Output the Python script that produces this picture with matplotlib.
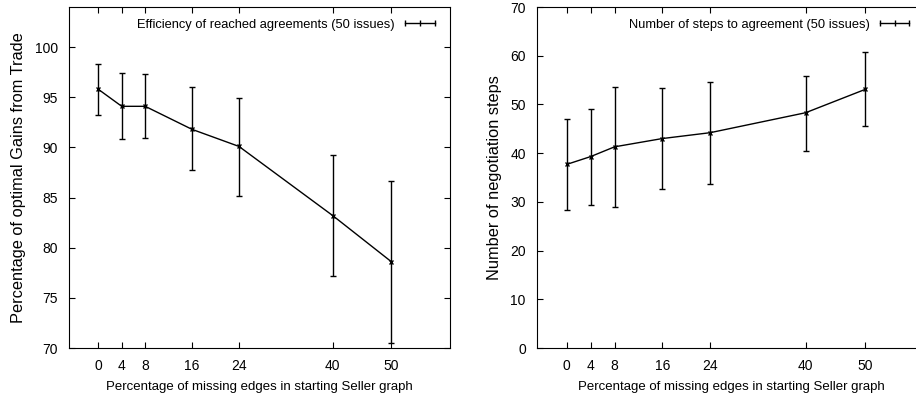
import matplotlib.pyplot as plt
from matplotlib.lines import Line2D

plt.rcParams['font.family'] = ['Liberation Sans Narrow', 'Liberation Sans', 'DejaVu Sans']
plt.rcParams['font.size'] = 10

# shared x positions (percentage of missing edges)
missing = [0, 4, 8, 16, 24, 40, 50]

# efficiency of reached agreements
eff = [95.8, 94.1, 94.1, 91.8, 90.1, 83.2, 78.6]
eff_low = [93.2, 90.8, 90.9, 87.7, 85.2, 77.2, 70.5]
eff_high = [98.3, 97.4, 97.3, 96.0, 94.9, 89.2, 86.7]

# number of steps to agreement
steps = [37.7, 39.3, 41.3, 43.0, 44.2, 48.3, 53.1]
steps_low = [28.3, 29.4, 29.0, 32.6, 33.7, 40.5, 45.6]
steps_high = [47.0, 49.1, 53.5, 53.3, 54.7, 55.9, 60.7]

xlabel = 'Percentage of missing edges in starting Seller graph'

fig = plt.figure(figsize=(9.16, 4.04), dpi=100)
ax1 = fig.add_axes([0.0753, 0.1386, 0.416, 0.844])
ax2 = fig.add_axes([0.5862, 0.1386, 0.4236, 0.844])


def draw(ax, y, lo, hi, label, ylim, yticks, ylab):
    err = [[v - l for v, l in zip(y, lo)], [h - v for v, h in zip(y, hi)]]
    ax.errorbar(missing, y, yerr=err, color='black', lw=1.0, elinewidth=1.0,
                capsize=2, capthick=1.0, marker='x', ms=3.5, mew=1.0)
    ax.set_xlim(-5, 60)
    ax.set_ylim(*ylim)
    ax.set_xticks(missing)
    ax.set_yticks(yticks)
    ax.tick_params(direction='in', top=True, right=True, length=4, width=0.8,
                   labelsize=10, pad=8)
    ax.set_xlabel(xlabel, fontsize=9.5, labelpad=6)
    ax.set_ylabel(ylab, fontsize=11.8, labelpad=6)
    h = Line2D([0, 1], [0, 0], color='black', lw=1.0, marker='|', ms=4, mew=1.0)
    ax.legend([h], [label], loc='upper right', frameon=False, numpoints=3,
              markerfirst=False, handlelength=2.9, handletextpad=0.5,
              borderaxespad=0.5, fontsize=9.3)


draw(ax1, eff, eff_low, eff_high, 'Efficiency of reached agreements (50 issues)',
     (70, 104), range(70, 101, 5), 'Percentage of optimal Gains from Trade')
draw(ax2, steps, steps_low, steps_high, 'Number of steps to agreement (50 issues)',
     (0, 70), range(0, 71, 10), 'Number of negotiation steps')

fig.savefig('out.png', dpi=100)
